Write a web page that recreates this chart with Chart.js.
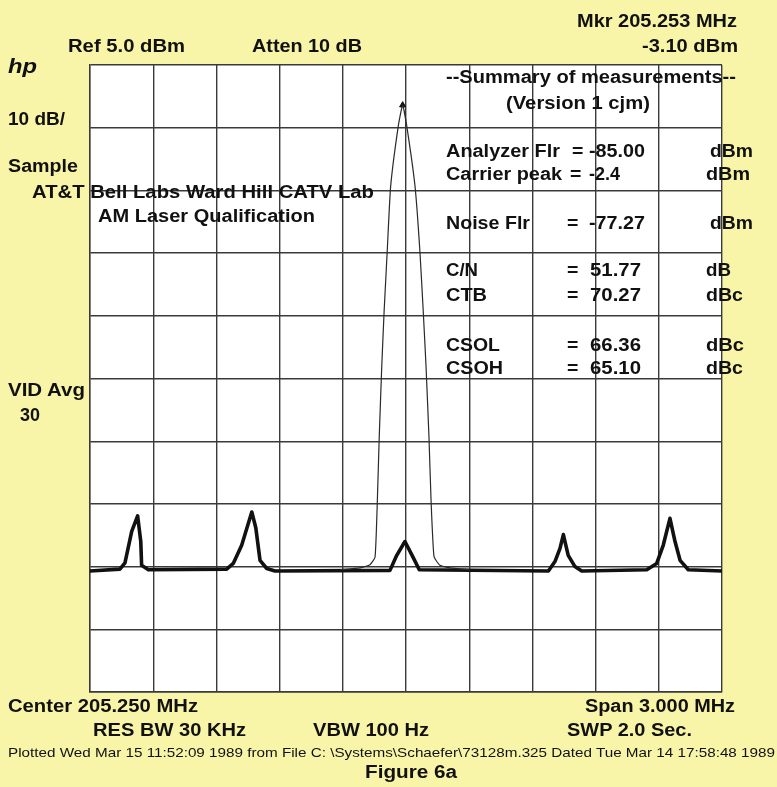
<!DOCTYPE html>
<html><head><meta charset="utf-8">
<script src="https://cdn.jsdelivr.net/npm/chart.js@4"></script>
<style>
html,body{margin:0;padding:0;background:#f9f5a8;}
#wrap{position:relative;width:777px;height:787px;overflow:hidden;background:#f9f5a8;}
canvas{position:absolute;left:0;top:0;}
.t{position:absolute;white-space:nowrap;font-family:"Liberation Sans",Arial,Helvetica,sans-serif;font-weight:bold;color:#111;line-height:1;z-index:2;transform-origin:0 0;}
</style></head><body>
<div id="wrap"><canvas id="c" width="777" height="787"></canvas></div>
<script>
// ---- data (MHz / dBm) ----
const gridFreqs = [203.75, 204.05, 204.35, 204.65, 204.95, 205.25, 205.55, 205.85, 206.15, 206.45, 206.75];
const gridLevels = [5, -5, -15, -25, -35, -45, -55, -65, -75, -85, -95];

// thick trace (averaged video)
const traceFreq = [203.750, 203.892, 203.916, 203.948, 203.976, 203.991, 203.995, 204.027,
  204.399, 204.430, 204.470, 204.518, 204.537, 204.557, 204.589, 204.628,
  205.174, 205.206, 205.245, 205.285, 205.313,
  205.926, 205.957, 205.981, 205.997, 206.020, 206.052, 206.084,
  206.393, 206.440, 206.471, 206.503, 206.527, 206.551, 206.590, 206.750];
const traceLevel = [-75.7, -75.4, -74.4, -69.4, -66.9, -71.0, -74.8, -75.5,
  -75.4, -74.5, -71.6, -66.3, -68.8, -74.0, -75.3, -75.7,
  -75.6, -73.2, -71.0, -73.6, -75.5,
  -75.7, -74.2, -72.1, -69.9, -73.2, -75.0, -75.7,
  -75.5, -74.5, -71.6, -67.3, -71.0, -74.0, -75.5, -75.7];

// thin trace (carrier)
const carrierFreq = [204.937, 205.032, 205.079, 205.103, 205.114, 205.123, 205.135, 205.146, 205.161, 205.177, 205.214, 205.234,
  205.253, 205.293, 205.316, 205.332, 205.345, 205.359, 205.369, 205.383, 205.411, 205.459, 205.554];
const carrierLevel = [-75.5, -75.2, -74.7, -73.5, -64.5, -54.3, -43.0, -34.4, -24.6, -14.4, -4.6, -1.4,
  -4.6, -14.4, -24.7, -34.4, -43.0, -54.3, -64.5, -73.4, -74.8, -75.2, -75.5];

const markerFreq = [205.234];
const markerLevel = [-1.4];

const summaryLabels = ["Analyzer Flr", "Carrier peak", "Noise Flr", "C/N", "CTB", "CSOL", "CSOH"];
const summaryValues = ["-85.00", "-2.4", "-77.27", "51.77", "70.27", "66.36", "65.10"];
const summaryUnits = ["dBm", "dBm", "dBm", "dB", "dBc", "dBc", "dBc"];

// ---- layout (positions only) ----
const summaryBaselines = [157, 180, 229, 276, 301, 351, 374];
const summaryLabelRight = [560, 562, 530, 478, 487, 500, 503];
const summaryValueRight = [645, 620, 645, 641, 641, 641, 641];
const summaryUnitLeft = [710, 706, 710, 706, 706, 706, 706];
const summaryUnitRight = [753, 750, 753, 731, 743, 744, 743];
const summaryEqLeft = [572, 570, 567, 567, 567, 567, 567];

const wrap = document.getElementById('wrap');
function addText(txt, left, baseline, right, opts) {
  opts = opts || {};
  const fs = opts.size || 18;
  const el = document.createElement('div');
  el.className = 't';
  el.textContent = txt;
  el.style.fontSize = fs + 'px';
  if (opts.weight) el.style.fontWeight = opts.weight;
  if (opts.italic) el.style.fontStyle = 'italic';
  el.style.left = left + 'px';
  el.style.top = (baseline - 0.8465 * fs) + 'px';
  wrap.appendChild(el);
  let sx = 1.08;
  if (right != null) {
    const w = el.getBoundingClientRect().width;
    sx = (right - left) / w;
    sx = Math.max(0.95, Math.min(1.25, sx));
  }
  el.style.transform = 'scaleX(' + sx + ')';
  return el;
}

const bgPlugin = {
  id: 'bg',
  beforeDraw(chart) {
    const ctx = chart.ctx, a = chart.chartArea;
    ctx.save();
    ctx.fillStyle = '#f9f5a8';
    ctx.fillRect(0, 0, chart.width, chart.height);
    ctx.fillStyle = '#ffffff';
    ctx.fillRect(a.left, a.top, a.right - a.left, a.bottom - a.top);
    ctx.restore();
  }
};

const gridStyle = { color: '#3a3a3a', lineWidth: 1.4, drawTicks: false };
new Chart(document.getElementById('c'), {
  type: 'line',
  data: {
    datasets: [
      { data: carrierFreq.map((f, i) => ({ x: f, y: carrierLevel[i] })), borderColor: '#2a2a2a', borderWidth: 1.2, pointRadius: 0, tension: 0.15, borderJoinStyle: 'round' },
      { data: traceFreq.map((f, i) => ({ x: f, y: traceLevel[i] })), borderColor: '#111', borderWidth: 3.6, pointRadius: 0, tension: 0, borderJoinStyle: 'round', borderCapStyle: 'round' },
      { data: markerFreq.map((f, i) => ({ x: f, y: markerLevel[i] })), showLine: false, pointStyle: 'triangle', pointRadius: 3.5, backgroundColor: '#111', borderColor: '#111' }
    ]
  },
  options: {
    responsive: false, animation: false, devicePixelRatio: 1,
    layout: { padding: { left: 90, top: 65, right: 55, bottom: 95 } },
    plugins: { legend: { display: false }, tooltip: { enabled: false } },
    scales: {
      x: { type: 'linear', min: 203.75, max: 206.75,
        afterBuildTicks: s => { s.ticks = gridFreqs.map(v => ({ value: v })); },
        ticks: { display: false }, grid: gridStyle, border: { color: '#3a3a3a', width: 1.4 } },
      y: { type: 'linear', min: -95, max: 5,
        afterBuildTicks: s => { s.ticks = gridLevels.map(v => ({ value: v })); },
        ticks: { display: false }, grid: gridStyle, border: { color: '#3a3a3a', width: 1.4 } }
    }
  },
  plugins: [bgPlugin]
});

// header / side / footer text
addText('Mkr 205.253 MHz', 577, 27, 737);
addText('Ref 5.0 dBm', 68, 52.7, 185);
addText('Atten 10 dB', 252, 52.7, 362);
addText('-3.10 dBm', 642, 52.7, 738);
addText('hp', 8, 72.5, 37, { size: 20, italic: true });
addText('10 dB/', 8, 125, 65);
addText('Sample', 8, 172.7, 78);
addText('AT&T Bell Labs Ward Hill CATV Lab', 32, 198, 374);
addText('AM Laser Qualification', 98, 222, 315);
addText('VID Avg', 8, 396, 85);
addText('30', 20, 421, 40);
addText('--Summary of measurements--', 446, 83, 736);
addText('(Version 1 cjm)', 506, 109, 650);
for (let i = 0; i < summaryLabels.length; i++) {
  const b = summaryBaselines[i];
  addText(summaryLabels[i], 446, b, summaryLabelRight[i]);
  addText('=', summaryEqLeft[i], b, null);
  const v = summaryValues[i];
  addText(v, v.startsWith('-') ? 589 : 590, b, summaryValueRight[i]);
  addText(summaryUnits[i], summaryUnitLeft[i], b, summaryUnitRight[i]);
}
addText('Center 205.250 MHz', 8, 712, 198);
addText('Span 3.000 MHz', 585, 712, 735);
addText('RES BW 30 KHz', 93, 736, 246);
addText('VBW 100 Hz', 313, 736, 429);
addText('SWP 2.0 Sec.', 567, 736, 692);
addText('Plotted Wed Mar 15 11:52:09 1989 from File C: \\Systems\\Schaefer\\73128m.325 Dated Tue Mar 14 17:58:48 1989', 8, 757, 775, { size: 13.5, weight: 'normal' });
addText('Figure 6a', 365, 778, 457);
</script>
</body></html>
